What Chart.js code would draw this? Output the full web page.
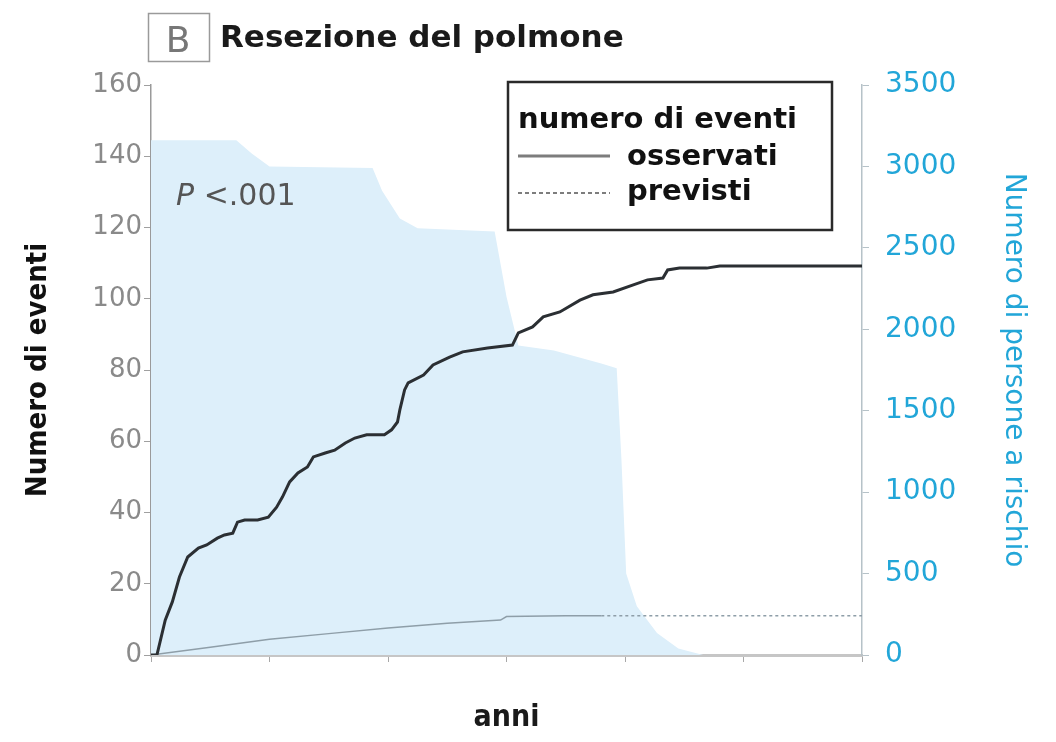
<!DOCTYPE html>
<html lang="it">
<head>
<meta charset="utf-8">
<title>Resezione del polmone</title>
<script src="https://cdn.jsdelivr.net/npm/chart.js@4.4.1/dist/chart.umd.min.js"></script>
<style>
  html, body { margin: 0; padding: 0; background: #fff; }
  #wrap { width: 1056px; height: 742px; }
</style>
</head>
<body>
<div id="wrap"><canvas id="chart" width="1056" height="742"></canvas></div>
<script>
// Eventi osservati (curva cumulativa)
const observedYears = [0, 0.05, 0.12, 0.18, 0.24, 0.31, 0.40, 0.47, 0.56, 0.62, 0.69, 0.73, 0.79, 0.90, 0.99,
    1.06, 1.11, 1.17, 1.24, 1.32, 1.37, 1.47, 1.55, 1.64, 1.72, 1.82, 1.97, 2.03, 2.08, 2.10, 2.14, 2.17,
    2.30, 2.38, 2.52, 2.63, 2.84, 3.05, 3.10, 3.22, 3.31, 3.45, 3.62, 3.73, 3.90, 4.07, 4.19, 4.32, 4.36,
    4.46, 4.69, 4.80, 6.0];
const observedEvents = [0, 0, 9.8, 14.9, 21.9, 27.5, 30, 30.9, 32.8, 33.7, 34.2, 37.3, 37.9, 37.9, 38.7,
    41.5, 44.4, 48.6, 51.1, 52.8, 55.6, 56.7, 57.5, 59.5, 60.9, 61.8, 61.8, 63.2, 65.4, 68.8, 74.4, 76.4,
    78.6, 81.4, 83.6, 85.1, 86.2, 87, 90.4, 92.1, 94.9, 96.3, 99.6, 101.1, 101.9, 103.9, 105.3, 105.8, 108.1,
    108.6, 108.6, 109.2, 109.2];

// Eventi previsti
const expectedYears = [0, 0.5, 1, 1.5, 2, 2.5, 2.95, 3.0, 3.5, 3.8, 6.0];
const expectedEvents = [0, 2.2, 4.4, 6.0, 7.6, 8.9, 9.8, 10.8, 11.0, 11.0, 11.0];

// Persone a rischio (asse destro)
const atRiskYears = [0, 0.72, 0.85, 1.0, 1.87, 1.95, 2.1, 2.25, 2.9, 3.0, 3.1, 3.4, 3.8, 3.93, 3.97,
    4.01, 4.1, 4.27, 4.45, 4.66, 6.0];
const atRiskPersons = [3160, 3160, 3080, 3000, 2990, 2850, 2680, 2620, 2600, 2200, 1900, 1870, 1790, 1760, 1200,
    500, 300, 135, 40, 0, 0];

const leftMax = 160;
const rightMax = 3500;
const yearMax = 6;

const toPoints = (xs, ys) => xs.map((x, i) => ({ x: x, y: ys[i] }));

const CYAN = '#22a6d8';
const narrow = '"DejaVu Sans Condensed", "DejaVu Sans", sans-serif';

// Titolo, riquadro "B", legenda e annotazione P
const decorPlugin = {
    id: 'decor',
    afterDraw(chart) {
        const ctx = chart.ctx;
        ctx.save();

        // riquadro "B"
        ctx.strokeStyle = '#9a9a9a';
        ctx.lineWidth = 1.5;
        ctx.strokeRect(148.5, 13.5, 61, 48);
        ctx.fillStyle = '#777';
        ctx.font = '36px "DejaVu Sans"';
        ctx.textAlign = 'center';
        ctx.textBaseline = 'alphabetic';
        ctx.fillText('B', 178, 52);

        // titolo
        ctx.fillStyle = '#1a1a1a';
        ctx.font = 'bold 31px "DejaVu Sans"';
        ctx.textAlign = 'left';
        ctx.fillText('Resezione del polmone', 220, 47);

        // P < .001
        ctx.fillStyle = '#555';
        ctx.font = 'italic 30px "DejaVu Sans"';
        ctx.fillText('P', 176, 205);
        const pw = ctx.measureText('P ').width;
        ctx.font = '30px "DejaVu Sans"';
        ctx.fillText('<.001', 176 + pw, 205);

        // legenda
        const lx = 508, ly = 82, lw = 324, lh = 148;
        ctx.fillStyle = '#fff';
        ctx.fillRect(lx, ly, lw, lh);
        ctx.strokeStyle = '#2a2a2a';
        ctx.lineWidth = 2.5;
        ctx.strokeRect(lx, ly, lw, lh);

        ctx.fillStyle = '#111';
        ctx.font = 'bold 29px "DejaVu Sans"';
        ctx.fillText('numero di eventi', 518, 128);
        ctx.fillText('osservati', 627, 165);
        ctx.fillText('previsti', 627, 200);

        ctx.strokeStyle = '#7d7d7d';
        ctx.lineWidth = 3;
        ctx.beginPath();
        ctx.moveTo(518, 156);
        ctx.lineTo(610, 156);
        ctx.stroke();

        ctx.lineWidth = 2;
        ctx.setLineDash([4, 3]);
        ctx.beginPath();
        ctx.moveTo(518, 193);
        ctx.lineTo(610, 193);
        ctx.stroke();

        ctx.restore();
    }
};

const ctx = document.getElementById('chart');

new Chart(ctx, {
    type: 'line',
    data: {
        datasets: [
            {
                label: 'osservati',
                data: toPoints(observedYears, observedEvents),
                yAxisID: 'y',
                borderColor: '#2b2f33',
                borderWidth: 3,
                pointRadius: 0,
                tension: 0,
                fill: false,
                order: 1
            },
            {
                label: 'previsti',
                data: toPoints(expectedYears, expectedEvents),
                yAxisID: 'y',
                borderColor: '#8e9ea8',
                borderWidth: 1.5,
                pointRadius: 0,
                tension: 0,
                fill: false,
                segment: {
                    borderDash: c => c.p0.parsed.x >= 3.8 ? [3, 3] : undefined
                },
                order: 2
            },
            {
                label: 'persone a rischio',
                data: toPoints(atRiskYears, atRiskPersons),
                yAxisID: 'yRight',
                borderWidth: 0,
                borderColor: 'rgba(0,0,0,0)',
                backgroundColor: 'rgb(221, 239, 250)',
                pointRadius: 0,
                tension: 0,
                fill: 'origin',
                order: 3
            }
        ]
    },
    options: {
        responsive: false,
        animation: false,
        devicePixelRatio: 1,
        layout: { padding: { top: 85, left: 0, right: 0, bottom: 0 } },
        plugins: {
            legend: { display: false },
            tooltip: { enabled: false }
        },
        scales: {
            x: {
                type: 'linear',
                min: 0,
                max: yearMax,
                z: 1,
                afterFit: scale => { scale.height = 87; },
                ticks: { stepSize: 1, display: false },
                grid: { drawOnChartArea: false, drawTicks: true, tickLength: 7, color: '#a8a8a8' },
                border: { color: '#c6c6c6', width: 3 },
                title: {
                    display: true,
                    text: 'anni',
                    color: '#1a1a1a',
                    font: { family: narrow, size: 30, weight: 'bold' },
                    padding: { top: 0, bottom: 6 }
                }
            },
            y: {
                position: 'left',
                min: 0,
                max: leftMax,
                afterFit: scale => { scale.width = 151; },
                ticks: {
                    stepSize: 20,
                    padding: 2,
                    color: '#8a8a8a',
                    font: { family: '"DejaVu Sans"', size: 26 }
                },
                grid: { drawOnChartArea: false, drawTicks: true, tickLength: 7, color: '#a0a0a0' },
                border: { color: '#9a9a9a', width: 1.5 },
                title: {
                    display: true,
                    text: 'Numero di eventi',
                    color: '#111',
                    font: { family: narrow, size: 29, weight: 'bold' },
                    padding: { top: 21, bottom: 0 }
                }
            },
            yRight: {
                position: 'right',
                min: 0,
                max: rightMax,
                afterFit: scale => { scale.width = 194; },
                ticks: {
                    stepSize: 500,
                    padding: 16,
                    color: CYAN,
                    font: { family: '"DejaVu Sans"', size: 28 },
                    callback: value => String(value)
                },
                grid: { drawOnChartArea: false, drawTicks: true, tickLength: 7, color: '#b6c2c8' },
                border: { color: '#b6c2c8', width: 1.5 },
                title: {
                    display: true,
                    text: 'Numero di persone a rischio',
                    color: CYAN,
                    font: { family: '"DejaVu Sans"', size: 28 },
                    padding: { top: 26, bottom: 0 }
                }
            }
        }
    },
    plugins: [decorPlugin]
});
</script>
</body>
</html>
